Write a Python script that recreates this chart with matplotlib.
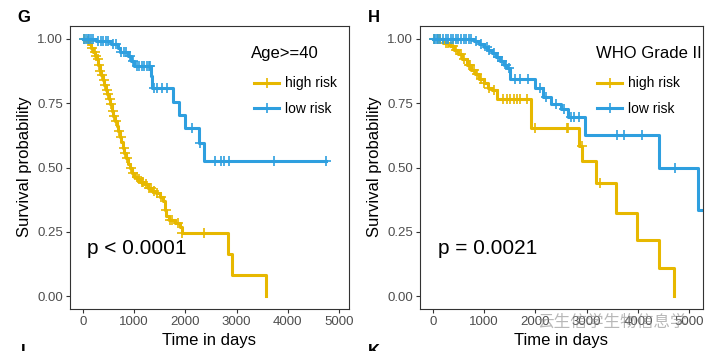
import matplotlib
matplotlib.use("Agg")
import matplotlib.pyplot as plt
from matplotlib.lines import Line2D
import numpy as np

plt.rcParams['font.family'] = ['Liberation Sans', 'DejaVu Sans']

YELLOW = '#E7B800'
BLUE = '#2E9FDF'

# ---- panel G : Age>=40 ----
g_high_t = [60, 120, 170, 210, 240, 270, 300, 330, 360, 390, 420, 450, 480, 510,
            540, 570, 600, 630, 660, 690, 720, 750, 780, 810, 850, 890, 930, 960,
            1000, 1060, 1120, 1200, 1280, 1350, 1420, 1500, 1560, 1600, 1630, 1680,
            1800, 1890, 1930, 2840, 2910, 3575]
g_high_s = [0.99, 0.98, 0.965, 0.95, 0.935, 0.92, 0.90, 0.875, 0.86, 0.84, 0.82,
            0.80, 0.785, 0.765, 0.745, 0.72, 0.70, 0.68, 0.66, 0.64, 0.62, 0.60,
            0.575, 0.555, 0.535, 0.515, 0.50, 0.48, 0.465, 0.455, 0.445, 0.435,
            0.42, 0.41, 0.40, 0.385, 0.37, 0.335, 0.31, 0.295, 0.285, 0.27, 0.245,
            0.163, 0.081, 0.0]
g_high_end = 3575
g_high_cens = [20, 100, 180, 230, 260, 290, 320, 345, 375, 410, 440, 470, 500, 530,
               560, 590, 620, 650, 700, 740, 800, 830, 870, 940, 980, 1050, 1100,
               1150, 1180, 1230, 1300, 1330, 1400, 1450, 1530, 1620, 1700, 1750,
               1850, 1940, 2370]

g_low_t = [250, 560, 680, 720, 880, 950, 1010, 1340, 1360, 1770, 1880, 1990, 2270, 2370]
g_low_s = [0.99, 0.98, 0.965, 0.95, 0.935, 0.915, 0.895, 0.855, 0.81, 0.755, 0.705,
           0.652, 0.595, 0.525]
g_low_end = 4750
g_low_cens = [30, 60, 100, 130, 160, 200, 300, 350, 400, 450, 500, 600, 650, 750, 800,
              850, 920, 980, 1050, 1100, 1150, 1200, 1250, 1300, 1320, 1400, 1450,
              1543, 1650, 2128, 2290, 2584, 2695, 2760, 2845, 3736, 4750]

# ---- panel H : WHO Grade II ----
h_high_t = [200, 340, 420, 500, 580, 660, 740, 820, 900, 990, 1070, 1150, 1250,
            1920, 2860, 2905, 3190, 3570, 3985, 4400, 4700]
h_high_s = [0.985, 0.973, 0.955, 0.94, 0.92, 0.90, 0.88, 0.862, 0.845, 0.83, 0.81,
            0.80, 0.765, 0.655, 0.583, 0.527, 0.44, 0.325, 0.218, 0.110, 0.0]
h_high_end = 4700
h_high_cens = [30, 100, 150, 250, 300, 400, 450, 550, 600, 700, 730, 800, 870, 950,
               1000, 1100, 1200, 1376, 1450, 1500, 1580, 1650, 1700, 1832, 1994,
               2612, 2637, 2900, 3261]

h_low_t = [800, 900, 1000, 1080, 1150, 1230, 1310, 1380, 1440, 1500, 2000, 2150,
           2300, 2500, 2640, 2960, 4410, 5178]
h_low_s = [0.99, 0.98, 0.97, 0.955, 0.945, 0.93, 0.915, 0.90, 0.885, 0.843, 0.81,
           0.775, 0.745, 0.727, 0.695, 0.625, 0.50, 0.333]
h_low_end = 5400
h_low_cens = [20, 50, 80, 110, 150, 200, 250, 300, 350, 400, 450, 500, 550, 600, 650,
              700, 750, 850, 950, 1050, 1100, 1200, 1270, 1350, 1420, 1480, 1600,
              1700, 1850, 2100, 2200, 2400, 2550, 2700, 2750, 2850, 3587, 3735, 4074,
              4723]

groups = ['high risk', 'low risk']
p_texts = ['p < 0.0001', 'p = 0.0021']
legend_titles = ['Age>=40', 'WHO Grade II']

W, H = 711, 351
fig = plt.figure(figsize=(W / 100, H / 100), dpi=100)


def px_axes(x0, y0, x1, y1):
    return fig.add_axes([x0 / W, 1 - y1 / H, (x1 - x0) / W, (y1 - y0) / H])


def km(ax, t_ev, s_ev, t_end, t_cens, color):
    t = np.r_[0, t_ev, t_end]
    s = np.r_[1.0, s_ev, s_ev[-1]]
    ax.step(t, s, where='post', color=color, lw=2.2)
    s_c = np.r_[1.0, s_ev][np.searchsorted(t_ev, t_cens, side='right')]
    ax.plot(t_cens, s_c, '+', color=color, ms=7, mew=1.2, ls='none')


def style(ax, xmax):
    ax.set_xlim(-248, xmax)
    ax.set_ylim(-0.05, 1.05)
    ax.set_xticks([0, 1000, 2000, 3000, 4000, 5000])
    ax.set_yticks([0, 0.25, 0.5, 0.75, 1.0])
    ax.set_yticklabels(['0.00', '0.25', '0.50', '0.75', '1.00'])
    ax.tick_params(length=3, width=0.8, color='#333333', labelcolor='#4D4D4D',
                   labelsize=9.5, pad=2)
    for sp in ax.spines.values():
        sp.set_color('#333333')
        sp.set_linewidth(0.8)


axG = px_axes(70, 26, 349.3, 309)
axH = px_axes(420, 26, 703, 309)

km(axG, g_high_t, g_high_s, g_high_end, g_high_cens, YELLOW)
km(axG, g_low_t, g_low_s, g_low_end, g_low_cens, BLUE)
km(axH, h_high_t, h_high_s, h_high_end, h_high_cens, YELLOW)
km(axH, h_low_t, h_low_s, h_low_end, h_low_cens, BLUE)
style(axG, 5200)
style(axH, 5267)

axG.text(90, 0.162, p_texts[0], fontsize=15, ha='left', va='baseline')
axH.text(110, 0.162, p_texts[1], fontsize=15, ha='left', va='baseline')

handles = [Line2D([], [], color=c, lw=2.2, marker='+', ms=7, mew=1.2)
           for c in (YELLOW, BLUE)]
for ax, title, tx, lx in [(axG, legend_titles[0], 250.7, 254),
                          (axH, legend_titles[1], 595.7, 597)]:
    fig.text(tx / W, 1 - 53.5 / H, title, fontsize=12, ha='left', va='center')
    ax.legend(handles, groups, loc='upper left',
              bbox_to_anchor=(lx / W, 1 - 76.5 / H), bbox_transform=fig.transFigure,
              frameon=False, fontsize=10, handlelength=1.8,
              handletextpad=0.45, labelspacing=0.85, borderpad=0, borderaxespad=0,
              numpoints=1)

# axis titles and panel letters
for cx in (209.5, 561.5):
    fig.text(cx / W, 1 - 340 / H, 'Time in days', fontsize=12, ha='center', va='center')
for x, letter in [(17, 'G'), (368, 'H')]:
    fig.text(x / W, 1 - 17.5 / H, letter, fontsize=12, fontweight='bold',
             ha='left', va='center')
for x, letter in [(21, 'I'), (368, 'K')]:
    fig.text(x / W, 1 - 344 / H, letter, fontsize=12, fontweight='bold',
             ha='left', va='top')
fig.text(25 / W, 1 - 167 / H, 'Survival probability', fontsize=12, rotation=90,
         ha='center', va='center')
fig.text(374 / W, 1 - 167 / H, 'Survival probability', fontsize=12, rotation=90,
         ha='center', va='center')

# watermark
fig.text(537 / W, 1 - 322 / H, '云生信学生物信息学', fontsize=12, color='#8a8a8a',
         alpha=0.6, ha='left', va='center', family=['Noto Sans CJK SC', 'DejaVu Sans'])

fig.savefig('out.png', dpi=100)
